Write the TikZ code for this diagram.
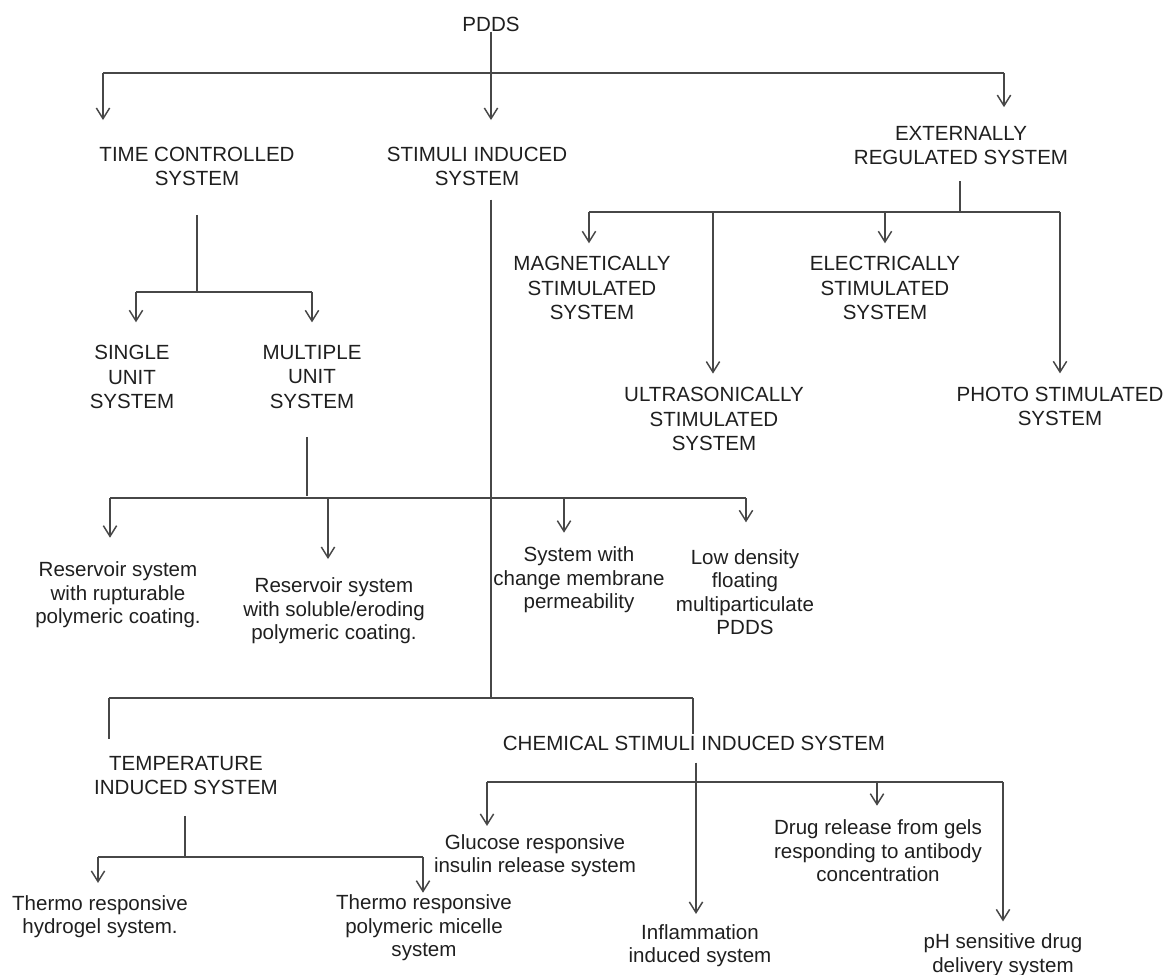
\documentclass[tikz,border=0pt]{standalone}
\usepackage{fontspec}
\setmainfont{Liberation Sans}
\usetikzlibrary{arrows.meta}

\begin{document}
\begin{tikzpicture}[x=0.75pt,y=-0.75pt,ln/.style={draw=black!72,line width=1.1pt},arr/.style={ln,-{Straight Barb[length=8pt,width=10pt]}},up/.style={inner sep=0pt,align=center,text=black!88,font=\fontsize{15.4}{18.4}\selectfont},lo/.style={up,font=\fontsize{15.4}{17.6}\selectfont}]
\useasboundingbox (0,0) rectangle (1168,975);
\node[up] (pdds) at (491,24) {PDDS};
\node[up] (time) at (197,166.5) {TIME CONTROLLED\\SYSTEM};
\node[up] (stim) at (477,166.5) {STIMULI INDUCED\\SYSTEM};
\node[up] (ext) at (961,145.5) {EXTERNALLY\\REGULATED SYSTEM};
\node[up] (single) at (132,377) {SINGLE\\UNIT\\SYSTEM};
\node[up] (multi) at (312,377) {MULTIPLE\\UNIT\\SYSTEM};
\node[up] (magn) at (592,288) {MAGNETICALLY\\STIMULATED\\SYSTEM};
\node[up] (elec) at (885,288) {ELECTRICALLY\\STIMULATED\\SYSTEM};
\node[up] (ultra) at (714,419) {ULTRASONICALLY\\STIMULATED\\SYSTEM};
\node[up] (photo) at (1060,406.5) {PHOTO STIMULATED\\SYSTEM};
\node[lo] (rupt) at (118,595) {Reservoir system\\with rupturable\\polymeric coating.};
\node[lo] (erod) at (334,611) {Reservoir system\\with soluble/eroding\\polymeric coating.};
\node[lo] (memb) at (579,580) {System with\\change membrane\\permeability};
\node[lo] (lowd) at (745,592) {Low density\\floating\\multiparticulate\\PDDS};
\node[up] (temp) at (186,775.5) {TEMPERATURE\\INDUCED SYSTEM};
\node[up] (chem) at (694,743) {CHEMICAL STIMULI INDUCED SYSTEM};
\node[lo] (hydro) at (100,916.5) {Thermo responsive\\hydrogel system.};
\node[lo] (micel) at (424,928) {Thermo responsive\\polymeric micelle\\system};
\node[lo] (gluc) at (535,855.5) {Glucose responsive\\insulin release system};
\node[lo] (infl) at (700,945.5) {Inflammation\\induced system};
\node[lo] (gels) at (878,851) {Drug release from gels\\responding to antibody\\concentration};
\node[lo] (ph) at (1003,955) {pH sensitive drug\\delivery system};
\coordinate (b0l) at (103,73);
\coordinate (b0m) at (491,73);
\coordinate (b0r) at (1004,73);
\coordinate (t0) at (197,292);
\coordinate (tl) at (136,292);
\coordinate (tr) at (312,292);
\coordinate (e0) at (960,212);
\coordinate (e1) at (589,212);
\coordinate (e2) at (713,212);
\coordinate (e3) at (885,212);
\coordinate (e4) at (1060,212);
\coordinate (m0) at (307,498);
\coordinate (r1) at (110,498);
\coordinate (r2) at (328,498);
\coordinate (r3) at (564,498);
\coordinate (r4) at (746,498);
\coordinate (s0) at (491,698);
\coordinate (s1) at (109,698);
\coordinate (s2) at (693,698);
\coordinate (h0) at (185,857);
\coordinate (h1) at (98,857);
\coordinate (h2) at (423,857);
\coordinate (c0) at (696,782);
\coordinate (c1) at (487,782);
\coordinate (c3) at (877,782);
\coordinate (c4) at (1003,782);
\draw[ln] (pdds) -- (b0m);
\draw[ln] (b0l) -- (b0r);
\draw[ln,shorten <=21.5pt] (t0 |- time.south) -- (t0);
\draw[ln] (tl) -- (tr);
\draw[ln,shorten <=12pt] (e0 |- ext.south) -- (e0);
\draw[ln] (e1) -- (e4);
\draw[ln,shorten <=10pt] (s0 |- stim.south) -- (s0);
\draw[ln,shorten <=21pt,shorten >=1.5pt] (m0 |- multi.south) -- (m0);
\draw[ln] (r1) -- (r4);
\draw[ln] (s1) -- (s2);
\draw[ln,shorten >=12.5pt] (s1) -- (s1 |- temp.north);
\draw[ln,shorten >=1pt] (s2) -- (s2 |- chem.north);
\draw[ln,shorten <=15.5pt] (h0 |- temp.south) -- (h0);
\draw[ln] (h1) -- (h2);
\draw[ln] (c1) -- (c4);
\draw[arr,shorten <=9pt,shorten >=7.5pt] (c0 |- chem.south) -- (c0 |- infl.north);
\foreach \j/\n/\g in %
{b0l/time/20,b0m/stim/20,b0r/ext/14,tl/single/17,tr/multi/17,e1/magn/9.5,e2/ultra/10,e3/elec/9.5,e4/photo/10,r1/rupt/18,r2/erod/14,r3/memb/10.5,r4/lowd/20,h1/hydro/9,h2/micel/1.5,c1/gluc/6,c3/gels/10.5,c4/ph/9} {
   \draw[arr,shorten >=\g pt] (\j) -- (\j |- \n.north);
}
\end{tikzpicture}
\end{document}
